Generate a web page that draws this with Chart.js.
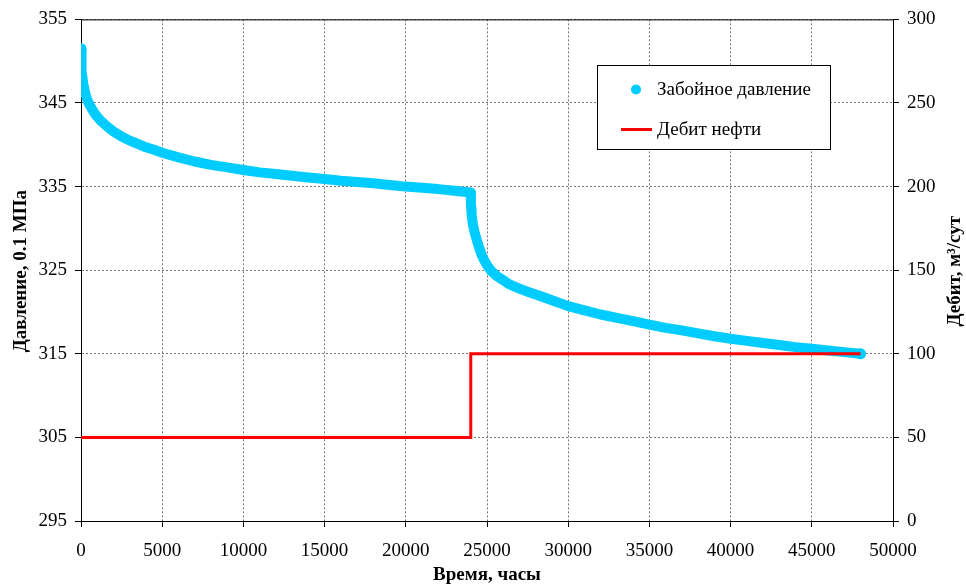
<!DOCTYPE html>
<html>
<head>
<meta charset="utf-8">
<script src="https://cdn.jsdelivr.net/npm/chart.js@4/dist/chart.umd.min.js"></script>
<style>
  html, body { margin: 0; padding: 0; background: #ffffff; }
  #wrap { width: 966px; height: 586px; position: relative; }
</style>
</head>
<body>
<div id="wrap"><canvas id="c" width="966" height="586"></canvas></div>
<script>
// Bottom-hole pressure over time (hours, 0.1 MPa)
const pressureTime = [
  0, 10, 30, 60, 100, 150, 200, 300, 400, 550, 700, 900, 1200, 1600, 2000, 2500, 3000, 3500,
  4000, 4500, 5000, 6000, 7000, 8000, 9000, 10000, 11000, 12000, 13000, 14000, 15000, 16000,
  17000, 18000, 19000, 20000, 21000, 22000, 23000, 24000,
  24010, 24025, 24050, 24100, 24150, 24230, 24330, 24450, 24550, 24660, 24800, 25000, 25260,
  25600, 26000, 26380, 27000, 27600, 28230, 29000, 30000, 31000, 32000, 33000, 34000, 35000,
  36000, 37000, 38000, 39000, 40000, 41000, 42000, 43000, 44000, 45000, 46000, 47000, 48000];
const pressureValue = [
  351.5, 350.8, 349.8, 348.8, 347.9, 347.2, 346.7, 345.9, 345.3, 344.7, 344.2, 343.6, 342.9, 342.2, 341.6, 341.0, 340.5, 340.1,
  339.7, 339.4, 339.05, 338.5, 338.0, 337.6, 337.3, 336.98, 336.7, 336.5, 336.3, 336.1, 335.9, 335.7,
  335.55, 335.4, 335.2, 335.0, 334.85, 334.7, 334.5, 334.3,
  333.2, 332.4, 331.7, 330.9, 330.3, 329.6, 328.9, 328.1, 327.5, 326.9, 326.3, 325.6, 324.9,
  324.3, 323.8, 323.3, 322.8, 322.35, 321.95, 321.4, 320.7, 320.2, 319.7, 319.3, 318.9, 318.5,
  318.1, 317.8, 317.45, 317.1, 316.8, 316.55, 316.3, 316.05, 315.8, 315.6, 315.4, 315.2, 315.0];

// Oil rate, m3/day (step change at 24000 h)
const rateTime = [0, 24000, 24000, 48000];
const rateValue = [50, 50, 100, 100];

// Axis ranges and tick steps
const timeTicks = { min: 0, max: 50000, step: 5000 };
const pressureTicks = { min: 295, max: 355, step: 10 };
const rateTicks = { min: 0, max: 300, step: 50 };

const seriesNames = ['Забойное давление', 'Дебит нефти'];
const axisTitles = { x: 'Время, часы', y: 'Давление, 0.1 МПа', y2: 'Дебит, м³/сут' };

const CYAN = 'rgb(0, 204, 255)';
const RED = 'rgb(255, 0, 0)';
const SERIF = '"Liberation Serif", "Times New Roman", serif';

const pressurePoints = pressureTime.map((t, i) => ({ x: t, y: pressureValue[i] }));
const ratePoints = rateTime.map((t, i) => ({ x: t, y: rateValue[i] }));

// Solid top edge of the plot area
const frame = {
  id: 'frame',
  afterDatasetsDraw(chart) {
    const { ctx, chartArea: a } = chart;
    ctx.save();
    ctx.strokeStyle = '#000';
    ctx.lineWidth = 1;
    ctx.beginPath();
    ctx.moveTo(a.left, a.top + 0.5);
    ctx.lineTo(a.right, a.top + 0.5);
    ctx.stroke();
    ctx.restore();
  }
};

// Vertical axis titles, both reading bottom-to-top
const sideTitles = {
  id: 'sideTitles',
  afterDraw(chart) {
    const { ctx, chartArea: a } = chart;
    const cy = (a.top + a.bottom) / 2 + 1;
    ctx.save();
    ctx.fillStyle = '#000';
    ctx.font = 'bold 19px ' + SERIF;
    ctx.textAlign = 'center';
    ctx.textBaseline = 'middle';
    [[21, axisTitles.y], [955, axisTitles.y2]].forEach(([x, text]) => {
      ctx.save();
      ctx.translate(x, cy);
      ctx.rotate(-Math.PI / 2);
      ctx.fillText(text, 0, 0);
      ctx.restore();
    });
    ctx.restore();
  }
};

// Boxed legend inside the plot area
const boxLegend = {
  id: 'boxLegend',
  afterDraw(chart) {
    const { ctx } = chart;
    const x0 = 597.5, y0 = 65.5, w = 233, h = 84;
    ctx.save();
    ctx.fillStyle = '#fff';
    ctx.fillRect(x0, y0, w, h);
    ctx.strokeStyle = '#000';
    ctx.lineWidth = 1;
    ctx.strokeRect(x0, y0, w, h);

    ctx.fillStyle = CYAN;
    ctx.beginPath();
    ctx.arc(636, 89.5, 5, 0, Math.PI * 2);
    ctx.fill();

    ctx.strokeStyle = RED;
    ctx.lineWidth = 3;
    ctx.beginPath();
    ctx.moveTo(621, 129.5);
    ctx.lineTo(652, 129.5);
    ctx.stroke();

    ctx.fillStyle = '#000';
    ctx.font = '19px ' + SERIF;
    ctx.textBaseline = 'middle';
    ctx.textAlign = 'left';
    ctx.fillText(seriesNames[0], 657, 90);
    ctx.fillText(seriesNames[1], 657, 130);
    ctx.restore();
  }
};

const tickFont = { family: SERIF, size: 19 };
const titleFont = { family: SERIF, size: 19, weight: 'bold' };
const gridStyle = { color: '#777', tickColor: '#000', tickBorderDash: [], tickLength: 6, lineWidth: 1 };

new Chart(document.getElementById('c'), {
  type: 'line',
  data: {
    datasets: [
      {
        label: seriesNames[0],
        data: pressurePoints,
        yAxisID: 'y',
        borderColor: CYAN,
        backgroundColor: CYAN,
        borderWidth: 10,
        borderCapStyle: 'round',
        borderJoinStyle: 'round',
        tension: 0,
        pointRadius: (c) => (c.dataIndex === 0 || c.dataIndex === pressurePoints.length - 1) ? 5.5 : 0,
        pointBorderWidth: 0,
        order: 2
      },
      {
        label: seriesNames[1],
        data: ratePoints,
        yAxisID: 'y2',
        borderColor: RED,
        backgroundColor: RED,
        borderWidth: 3,
        pointRadius: 0,
        tension: 0,
        order: 1
      }
    ]
  },
  options: {
    responsive: false,
    animation: false,
    events: [],
    layout: { padding: { top: 18, left: 0, right: 0, bottom: 0 } },
    plugins: { legend: { display: false }, tooltip: { enabled: false } },
    scales: {
      x: {
        type: 'linear',
        min: timeTicks.min, max: timeTicks.max,
        afterFit: (s) => { s.height = 65; },
        ticks: { stepSize: timeTicks.step, color: '#000', font: tickFont, padding: 13, maxRotation: 0,
                 callback: (v) => String(v) },
        grid: gridStyle,
        border: { color: '#000', width: 1, dash: [2, 2] },
        title: { display: true, text: axisTitles.x, color: '#000', font: titleFont, padding: { top: 0, bottom: 0 } }
      },
      y: {
        type: 'linear', position: 'left',
        min: pressureTicks.min, max: pressureTicks.max,
        afterFit: (s) => { s.width = 81; },
        ticks: { stepSize: pressureTicks.step, color: '#000', font: tickFont, padding: 8 },
        grid: gridStyle,
        border: { color: '#000', width: 1, dash: [2, 2] }
      },
      y2: {
        type: 'linear', position: 'right',
        min: rateTicks.min, max: rateTicks.max,
        afterFit: (s) => { s.width = 73; },
        ticks: { stepSize: rateTicks.step, color: '#000', font: tickFont, padding: 8 },
        grid: { drawOnChartArea: false, tickColor: '#000', tickLength: 6 },
        border: { color: '#000', width: 1 }
      }
    }
  },
  plugins: [frame, sideTitles, boxLegend]
});
</script>
</body>
</html>
